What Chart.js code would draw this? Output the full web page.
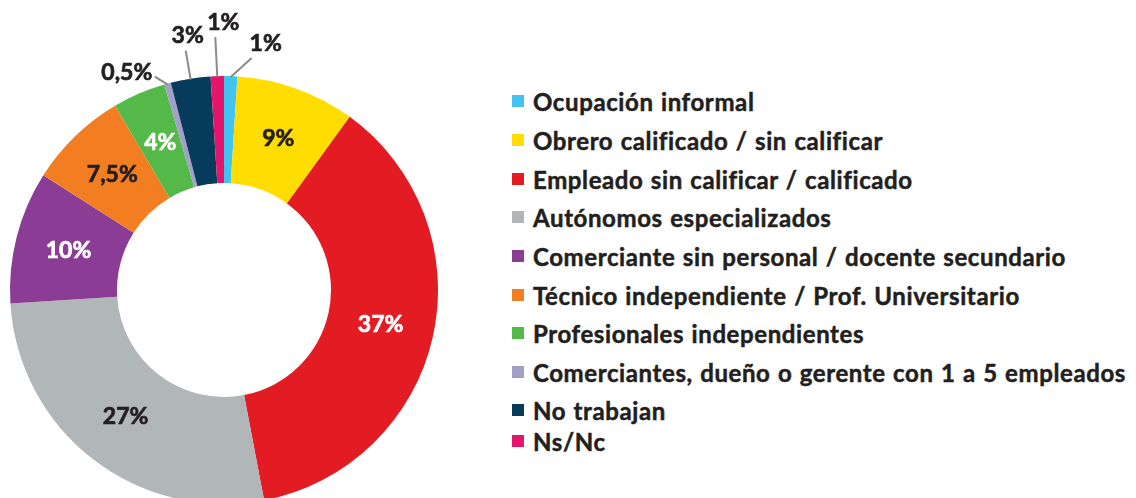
<!DOCTYPE html>
<html>
<head>
<meta charset="utf-8">
<script src="https://cdn.jsdelivr.net/npm/chart.js@4/dist/chart.umd.min.js"></script>
<style>
  html, body { margin: 0; padding: 0; background: #fff; overflow: hidden; }
  body { width: 1136px; height: 498px; position: relative; font-family: Lato, "Open Sans", sans-serif; }
  #chart-wrap { position: absolute; left: 0; top: 0; width: 448px; height: 504px; }
  #legend { position: absolute; left: 512px; top: 0; margin: 0; padding: 0; list-style: none; }
  #legend li { position: absolute; left: 0; white-space: nowrap; display: flex; align-items: center;
    font-weight: 700; font-size: 24px; color: #231f20; letter-spacing: 0.6px; word-spacing: 1px;
    -webkit-text-stroke: 0.5px #231f20; }
  #legend .box { display: inline-block; width: 12px; height: 12px; margin-right: 9px; }
</style>
</head>
<body>
<div id="chart-wrap"><canvas id="ocupacion-chart"></canvas></div>
<ul id="legend"></ul>
<script>
  // Categories and shares (percent)
  const categories = [
    'Ocupación informal',
    'Obrero calificado / sin calificar',
    'Empleado sin calificar / calificado',
    'Autónomos especializados',
    'Comerciante sin personal / docente secundario',
    'Técnico independiente / Prof. Universitario',
    'Profesionales independientes',
    'Comerciantes, dueño o gerente con 1 a 5 empleados',
    'No trabajan',
    'Ns/Nc'
  ];
  const shares = [1, 9, 37, 27, 10, 7.5, 4, 0.5, 3, 1];
  const shareLabels = ['1%', '9%', '37%', '27%', '10%', '7,5%', '4%', '0,5%', '3%', '1%'];

  // Styles
  const sliceColors = ['#41c4f0', '#ffdd00', '#e31b23', '#b1b6b9', '#8b3d96',
                       '#f37e22', '#54b948', '#a29fc8', '#073b5c', '#e5156b'];
  const labelColors = ['#231f20', '#231f20', '#ffffff', '#231f20', '#ffffff',
                       '#231f20', '#ffffff', '#231f20', '#231f20', '#231f20'];
  const legendRowY = [101, 140, 179, 217, 256, 295, 333, 372, 410, 441];

  // Small slices get a leader line: line end offset from the arc edge, then text offset
  const leaders = {
    0: { dx: 21, dy: -19, tx: 14, ty: -15 },
    7: { dx: -13, dy: -8, tx: -28, ty: -4 },
    8: { dx: -5, dy: -29, tx: 2, ty: -15 },
    9: { dx: -2, dy: -40, tx: 8, ty: -15 }
  };

  function drawLabel(ctx, text, x, y, color) {
    ctx.fillStyle = color;
    ctx.strokeStyle = color;
    ctx.lineWidth = 0.7;
    ctx.fillText(text, x, y);
    ctx.strokeText(text, x, y);
  }

  const sliceLabels = {
    id: 'sliceLabels',
    afterDatasetsDraw(chart) {
      const ctx = chart.ctx;
      const meta = chart.getDatasetMeta(0);
      ctx.save();
      ctx.font = 'bold 23px Lato, "Open Sans", sans-serif';
      ctx.textAlign = 'center';
      ctx.textBaseline = 'middle';
      meta.data.forEach((arc, i) => {
        const p = arc.getProps(['x', 'y', 'startAngle', 'endAngle', 'innerRadius', 'outerRadius'], true);
        const mid = (p.startAngle + p.endAngle) / 2;
        const lead = leaders[i];
        if (lead) {
          const sx = p.x + Math.cos(mid) * (p.outerRadius - 1);
          const sy = p.y + Math.sin(mid) * (p.outerRadius - 1);
          const ex = sx + lead.dx, ey = sy + lead.dy;
          ctx.strokeStyle = '#8a8a8a';
          ctx.lineWidth = 2;
          ctx.beginPath();
          ctx.moveTo(sx, sy);
          ctx.lineTo(ex, ey);
          ctx.stroke();
          drawLabel(ctx, shareLabels[i], ex + lead.tx, ey + lead.ty, labelColors[i]);
        } else {
          const r = (p.innerRadius + p.outerRadius) / 2;
          drawLabel(ctx, shareLabels[i], p.x + Math.cos(mid) * r, p.y + Math.sin(mid) * r, labelColors[i]);
        }
      });
      ctx.restore();
    }
  };

  new Chart(document.getElementById('ocupacion-chart'), {
    type: 'doughnut',
    data: {
      labels: categories,
      datasets: [{
        data: shares,
        backgroundColor: sliceColors,
        borderWidth: 0
      }]
    },
    options: {
      responsive: true,
      maintainAspectRatio: false,
      animation: false,
      events: [],
      cutout: '50%',
      layout: { padding: { left: 10, right: 10, top: 76, bottom: 0 } },
      plugins: {
        legend: { display: false },
        tooltip: { enabled: false }
      }
    },
    plugins: [sliceLabels]
  });

  // Legend built from the same arrays
  const legend = document.getElementById('legend');
  categories.forEach((name, i) => {
    const li = document.createElement('li');
    li.style.top = (legendRowY[i] - 14) + 'px';
    li.style.height = '28px';
    const box = document.createElement('span');
    box.className = 'box';
    box.style.background = sliceColors[i];
    li.appendChild(box);
    li.appendChild(document.createTextNode(name));
    legend.appendChild(li);
  });
</script>
</body>
</html>
